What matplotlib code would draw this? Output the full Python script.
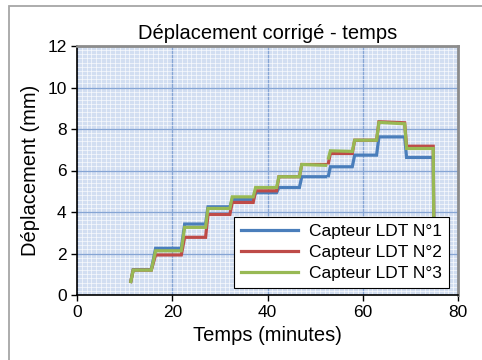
import numpy as np
import matplotlib
matplotlib.use("Agg")
import matplotlib.pyplot as plt
from matplotlib.patches import Rectangle
from matplotlib.ticker import MultipleLocator

plt.rcParams['font.family'] = ['Liberation Sans', 'DejaVu Sans']

# time breakpoints (minutes); NaN marks the data gap
temps = [11.3, 11.8, 15.6, 16.5, 21.9, 22.6, 27.0, 27.5, 32.1, 32.6, 37.0, 37.5,
         41.9, 42.4, 46.7, 47.2, 52.2, np.nan, 52.8, 53.2, 57.8, 58.3, 62.9, 63.4,
         68.8, 69.2, 74.8, 75.0]

ldt1 = [0.65, 1.22, 1.22, 2.25, 2.25, 3.42, 3.42, 4.25, 4.25, 4.61, 4.61, 4.93,
        4.93, 5.18, 5.18, 5.70, 5.70, np.nan, 5.75, 6.18, 6.18, 6.74, 6.74, 7.62,
        7.62, 6.63, 6.63, 0.6]
ldt2 = [0.65, 1.20, 1.20, 1.93, 1.93, 2.78, 2.78, 3.88, 3.88, 4.46, 4.46, 5.02,
        5.02, 5.70, 5.70, 6.29, 6.29, np.nan, 6.37, 6.82, 6.82, 7.46, 7.46, 8.35,
        8.30, 7.17, 7.17, 0.6]
ldt3 = [0.65, 1.20, 1.20, 2.13, 2.13, 3.26, 3.26, 4.17, 4.17, 4.73, 4.73, 5.18,
        5.18, 5.70, 5.70, 6.29, 6.25, np.nan, 6.60, 6.95, 6.92, 7.46, 7.46, 8.32,
        8.25, 7.06, 7.06, 0.6]

labels = ['Capteur LDT N°1', 'Capteur LDT N°2', 'Capteur LDT N°3']
colors = ['#4a7ebb', '#be4b48', '#98b954']

fig = plt.figure(figsize=(4.82, 3.6), dpi=100)
ax = fig.add_axes([77/482, 65/360, 381/482, 249/360])

ax.set_facecolor('#d2def1')
for s, lab, c in zip([ldt1, ldt2, ldt3], labels, colors):
    ax.plot(temps, s, color=c, lw=2.3, label=lab, solid_joinstyle='miter', zorder=3)

ax.set_xlim(0, 80)
ax.set_ylim(0, 12)
ax.xaxis.set_major_locator(MultipleLocator(20))
ax.yaxis.set_major_locator(MultipleLocator(2))
ax.xaxis.set_minor_locator(MultipleLocator(1))
ax.yaxis.set_minor_locator(MultipleLocator(0.2))
ax.grid(which='minor', color='white', lw=0.7, alpha=0.6, zorder=0)
ax.grid(which='major', color='#86a5d4', lw=0.9, zorder=1)
ax.set_axisbelow(True)
ax.tick_params(which='minor', length=0)
ax.tick_params(which='major', direction='out', length=4, width=1, labelsize=12.5, colors='black')

for side in ['left', 'bottom']:
    ax.spines[side].set_color('black')
    ax.spines[side].set_linewidth(1.2)
for side in ['top', 'right']:
    ax.spines[side].set_color('#8c8c8c')
    ax.spines[side].set_linewidth(2)

ax.set_title('Déplacement corrigé - temps', fontsize=14.5, pad=5)
ax.set_xlabel('Temps (minutes)', fontsize=14.5, labelpad=4)
ax.set_ylabel('Déplacement (mm)', fontsize=14.5, labelpad=5)

leg = ax.legend(loc='lower right', bbox_to_anchor=(0.976, 0.028), borderaxespad=0,
                fontsize=12.5, frameon=True, fancybox=False, handlelength=3.3,
                labelspacing=0.35, borderpad=0.4, handletextpad=0.6)
leg.get_frame().set_edgecolor('black')
leg.get_frame().set_linewidth(0.8)
leg.get_frame().set_alpha(1)
leg.set_zorder(5)

fig.patches.append(Rectangle((9/482, -0.05), 1.1, 1 - 6/360 + 0.05, transform=fig.transFigure,
                             fill=False, edgecolor='#a6a6a6', lw=1.3, zorder=0))

fig.savefig('out.png', dpi=100)
